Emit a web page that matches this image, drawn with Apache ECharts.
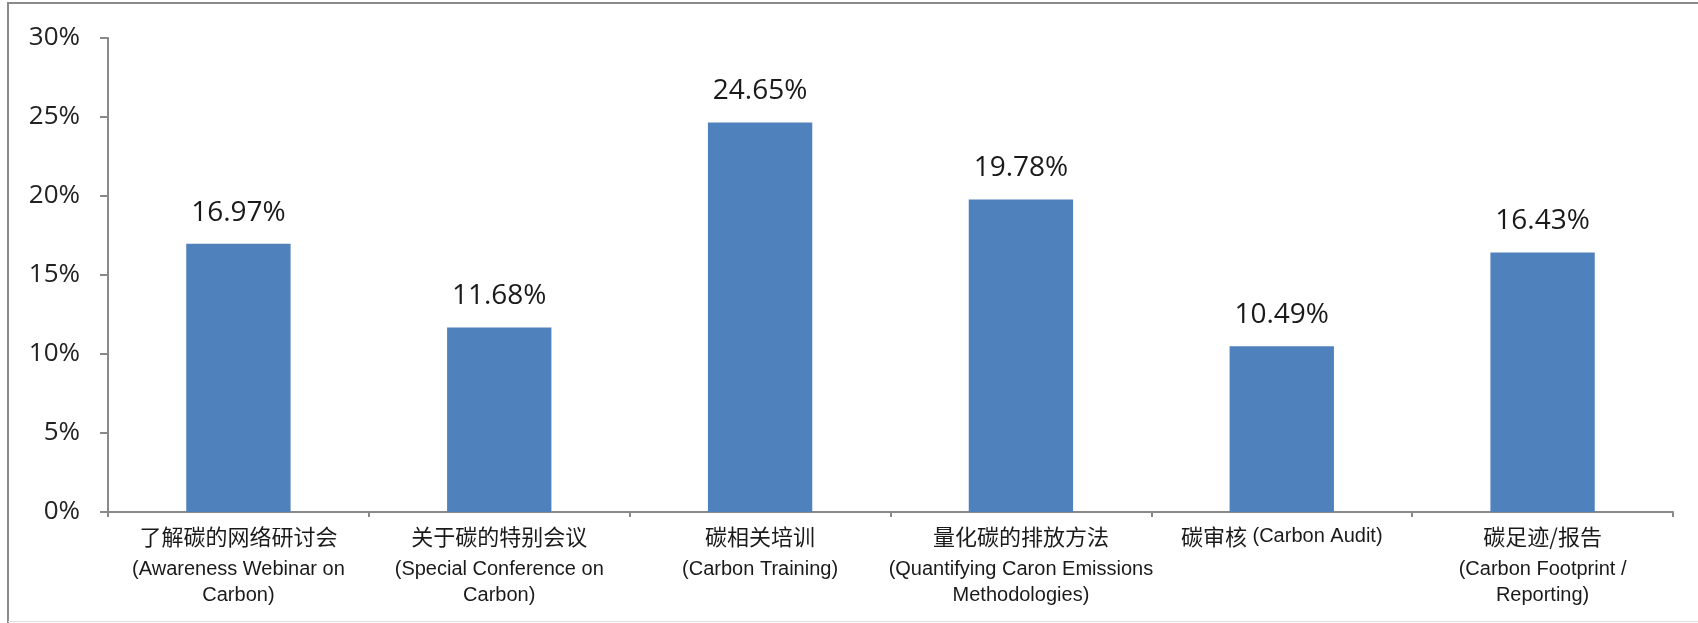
<!DOCTYPE html>
<html>
<head>
<meta charset="utf-8">
<script src="https://cdn.jsdelivr.net/npm/echarts@6/dist/echarts.min.js"></script>
<style>
html,body{margin:0;padding:0;background:#fff;}
#chart{width:1698px;height:623px;}
</style>
</head>
<body>
<div id="chart"></div>
<script>
const categories = [
  '了解碳的网络研讨会\n(Awareness Webinar on\nCarbon)',
  '关于碳的特别会议\n(Special Conference on\nCarbon)',
  '碳相关培训\n(Carbon Training)',
  '量化碳的排放方法\n(Quantifying Caron Emissions\nMethodologies)',
  '碳审核 (Carbon Audit)',
  '碳足迹/报告\n(Carbon Footprint /\nReporting)'
];
const values = [16.97, 11.68, 24.65, 19.78, 10.49, 16.43];
const yTicks = { min: 0, max: 30, interval: 5 };

function richLine(line) {
  const parts = line.match(/[\u4e00-\u9fff\/]+|[^\u4e00-\u9fff]+/g) || [];
  return parts.map(p => {
    const isZh = /[\u4e00-\u9fff]/.test(p);
    return isZh ? '{zh|' + p + '}' : '{en|' + p + '}';
  }).join('');
}

const chart = echarts.init(document.getElementById('chart'), null, { renderer: 'canvas' });
chart.setOption({
  backgroundColor: '#ffffff',
  animation: false,
  grid: { left: 108, right: 25, top: 38, bottom: 111, containLabel: false },
  xAxis: {
    type: 'category',
    data: categories,
    boundaryGap: true,
    axisLine: { lineStyle: { color: '#898989', width: 2 } },
    axisTick: { show: true, length: 5, alignWithLabel: false, lineStyle: { color: '#898989', width: 2 } },
    axisLabel: {
      interval: 0,
      margin: 5,
      color: '#1a1a1a',
      formatter: function (v) {
        return v.split('\n').map(richLine).join('\n');
      },
      rich: {
        zh: { fontFamily: 'Noto Sans CJK SC', fontSize: 22, lineHeight: 39, color: '#1a1a1a' },
        en: { fontFamily: 'Liberation Sans', fontSize: 20, lineHeight: 26, color: '#1a1a1a' }
      }
    }
  },
  yAxis: {
    type: 'value',
    min: yTicks.min,
    max: yTicks.max,
    interval: yTicks.interval,
    splitLine: { show: false },
    axisLine: { show: true, lineStyle: { color: '#898989', width: 2 } },
    axisTick: { show: true, length: 8, lineStyle: { color: '#898989', width: 2 } },
    axisLabel: {
      margin: 28,
      fontFamily: 'Open Sans',
      fontSize: 26,
      color: '#222',
      formatter: '{value}%'
    }
  },
  series: [{
    type: 'bar',
    data: values,
    barCategoryGap: '60%',
    itemStyle: { color: '#4F81BD' },
    label: {
      show: true,
      position: 'top',
      distance: 17,
      fontFamily: 'Open Sans',
      fontSize: 28,
      color: '#1a1a1a',
      formatter: p => p.value.toFixed(2) + '%'
    }
  }],
  graphic: [
    { type: 'line', shape: { x1: 7, y1: 3, x2: 1698, y2: 3 }, style: { stroke: '#8a8a8a', lineWidth: 2 }, silent: true },
    { type: 'line', shape: { x1: 8, y1: 3, x2: 8, y2: 623 }, style: { stroke: '#8a8a8a', lineWidth: 2 }, silent: true },
    { type: 'line', shape: { x1: 8, y1: 621.5, x2: 1698, y2: 621.5 }, style: { stroke: '#dddddd', lineWidth: 1 }, silent: true }
  ]
});
</script>
</body>
</html>
